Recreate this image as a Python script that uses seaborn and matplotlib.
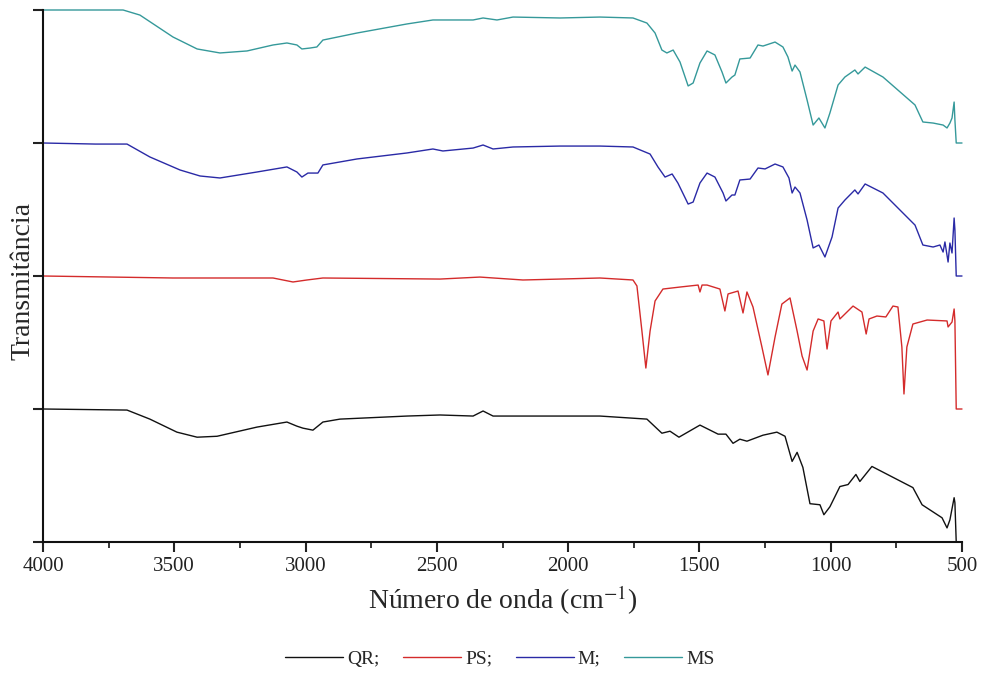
import numpy as np
import pandas as pd
import matplotlib
matplotlib.use("Agg")
import matplotlib.pyplot as plt
import seaborn as sns
from matplotlib.ticker import MultipleLocator

# FTIR spectra, transmittance normalised 0..1 per sample
qr_wn = [4000, 3680, 3593, 3490, 3413, 3337, 3185, 3071, 3033, 3010, 2972, 2934, 2869,
         2614, 2488, 2362, 2324, 2286, 2031, 1879, 1700, 1643, 1612, 1578, 1498, 1429,
         1399, 1372, 1346, 1319, 1258, 1205, 1174, 1147, 1128, 1106, 1079, 1041, 1026,
         1003, 965, 934, 904, 889, 843, 687, 652, 576, 557, 546, 530, 527, 522, 500]
qr_t = [1.0, 0.992, 0.924, 0.826, 0.788, 0.795, 0.864, 0.902, 0.871, 0.856, 0.841, 0.902, 0.924,
        0.947, 0.955, 0.947, 0.985, 0.947, 0.947, 0.947, 0.924, 0.818, 0.833, 0.788, 0.879, 0.811,
        0.811, 0.742, 0.773, 0.758, 0.803, 0.826, 0.795, 0.606, 0.674, 0.561, 0.288, 0.280, 0.205,
        0.265, 0.417, 0.432, 0.508, 0.455, 0.568, 0.409, 0.280, 0.182, 0.106, 0.167, 0.333, 0.295, 0.0, 0.0]

ps_wn = [4000, 3505, 3124, 3048, 2995, 2934, 2488, 2336, 2172, 2031, 1879, 1753, 1738, 1719,
         1704, 1688, 1669, 1639, 1574, 1505, 1498, 1490, 1471, 1422, 1403, 1391, 1353, 1334,
         1319, 1296, 1262, 1239, 1212, 1186, 1155, 1128, 1109, 1090, 1067, 1048, 1026, 1014,
         999, 972, 965, 915, 881, 865, 854, 824, 790, 763, 744, 729, 721, 710, 687, 633,
         557, 553, 538, 530, 527, 522, 500]
ps_t = [1.0, 0.985, 0.985, 0.955, 0.970, 0.985, 0.977, 0.992, 0.970, 0.977, 0.985, 0.970, 0.925, 0.586,
        0.308, 0.586, 0.812, 0.902, 0.917, 0.932, 0.880, 0.932, 0.932, 0.902, 0.737, 0.865, 0.887, 0.722,
        0.880, 0.767, 0.466, 0.256, 0.541, 0.789, 0.835, 0.586, 0.398, 0.293, 0.586, 0.677, 0.662, 0.451,
        0.662, 0.729, 0.677, 0.774, 0.729, 0.564, 0.677, 0.699, 0.692, 0.774, 0.767, 0.466, 0.113, 0.466, 0.639, 0.669,
        0.662, 0.617, 0.654, 0.752, 0.662, 0.0, 0.0]

m_wn = [4000, 3800, 3680, 3593, 3478, 3402, 3326, 3185, 3071, 3033, 3014, 2991, 2953, 2934,
        2804, 2614, 2515, 2477, 2362, 2324, 2286, 2210, 2031, 1879, 1753, 1688, 1658, 1631,
        1604, 1582, 1543, 1524, 1498, 1471, 1441, 1410, 1399, 1376, 1365, 1346, 1307, 1277,
        1250, 1212, 1182, 1159, 1147, 1136, 1117, 1090, 1067, 1045, 1022, 995, 972, 946,
        908, 896, 869, 801, 679, 649, 610, 584, 572, 565, 553, 546, 538, 530, 527, 522, 500]
m_t = [1.0, 0.992, 0.992, 0.895, 0.797, 0.752, 0.737, 0.782, 0.820, 0.782, 0.744, 0.774, 0.774, 0.835,
       0.880, 0.925, 0.955, 0.940, 0.962, 0.985, 0.955, 0.970, 0.977, 0.977, 0.970, 0.917, 0.820, 0.744,
       0.767, 0.699, 0.541, 0.556, 0.699, 0.774, 0.744, 0.624, 0.564, 0.609, 0.609, 0.722, 0.729, 0.812,
       0.805, 0.842, 0.820, 0.737, 0.624, 0.669, 0.624, 0.421, 0.211, 0.233, 0.143, 0.293, 0.511, 0.571,
       0.647, 0.617, 0.692, 0.624, 0.383, 0.233, 0.218, 0.233, 0.180, 0.256, 0.105, 0.248, 0.173, 0.436, 0.346, 0.0, 0.0]

ms_wn = [4000, 3800, 3695, 3631, 3505, 3413, 3326, 3223, 3124, 3071, 3033, 3014, 2983, 2957,
         2934, 2804, 2614, 2515, 2362, 2324, 2271, 2210, 2031, 1879, 1753, 1700, 1669, 1643,
         1624, 1600, 1574, 1543, 1524, 1498, 1471, 1441, 1414, 1399, 1376, 1365, 1346, 1307,
         1277, 1258, 1212, 1182, 1163, 1147, 1136, 1117, 1090, 1067, 1045, 1022, 1003, 972,
         946, 908, 896, 869, 801, 679, 649, 610, 572, 557, 546, 538, 530, 527, 522, 500]
ms_t = [1.0, 1.0, 1.0, 0.962, 0.797, 0.707, 0.677, 0.692, 0.737, 0.752, 0.737, 0.707, 0.714, 0.722,
        0.774, 0.827, 0.895, 0.925, 0.925, 0.940, 0.925, 0.947, 0.940, 0.947, 0.940, 0.902, 0.827, 0.699,
        0.677, 0.699, 0.609, 0.429, 0.451, 0.602, 0.692, 0.662, 0.534, 0.451, 0.496, 0.511, 0.632, 0.639,
        0.737, 0.729, 0.759, 0.722, 0.647, 0.541, 0.586, 0.534, 0.323, 0.135, 0.188, 0.113, 0.226, 0.436,
        0.496, 0.549, 0.519, 0.571, 0.496, 0.286, 0.158, 0.150, 0.135, 0.113, 0.150, 0.188, 0.308, 0.173, 0.0, 0.0]

samples = ["QR;", "PS;", "M;", "MS"]
colors = {"QR;": "#111111", "PS;": "#d42b2b", "M;": "#2a2aa6", "MS": "#35999a"}

frames = []
for i, (lab, wn, t) in enumerate(zip(samples, [qr_wn, ps_wn, m_wn, ms_wn], [qr_t, ps_t, m_t, ms_t])):
    frames.append(pd.DataFrame({"wn": wn, "T": np.array(t) + i, "amostra": lab}))
df = pd.concat(frames, ignore_index=True)

sns.set_style("ticks")
plt.rcParams["font.family"] = ["Liberation Serif", "DejaVu Serif"]
plt.rcParams["mathtext.fontset"] = "stix"

fig = plt.figure(figsize=(9.82, 6.75), dpi=100)
ax = fig.add_axes([43 / 982, 133 / 675, 919 / 982, 532 / 675])

sns.lineplot(data=df, x="wn", y="T", hue="amostra", hue_order=samples, palette=colors,
             estimator=None, sort=False, linewidth=1.0, ax=ax, clip_on=False)

ax.set_xlim(4000, 500)
ax.set_ylim(0, 4)
ax.xaxis.set_major_locator(MultipleLocator(500))
ax.xaxis.set_minor_locator(MultipleLocator(250))
ax.set_yticks([0, 1, 2, 3, 4])
ax.set_yticklabels([])
ax.tick_params(axis="both", which="major", direction="out", length=7, width=1.5, labelsize=15, colors="#222222")
ax.tick_params(axis="x", which="minor", direction="out", length=4, width=1.3)
for s in ["top", "right"]:
    ax.spines[s].set_visible(False)
for s in ["left", "bottom"]:
    ax.spines[s].set_linewidth(1.5)
    ax.spines[s].set_color("#111111")

ax.set_xlabel("Número de onda (cm$^{-1}$)", fontsize=20, labelpad=6)
ax.set_ylabel("Transmitância", fontsize=20)
ax.yaxis.set_label_coords(-7 / 919, 0.49)

sns.move_legend(ax, "center", bbox_to_anchor=(0.509, 16 / 675), bbox_transform=fig.transFigure,
                ncol=4, frameon=False, title=None, fontsize=14, handlelength=3.0,
                columnspacing=1.2, handletextpad=0.2)

fig.savefig("out.png", dpi=100)
